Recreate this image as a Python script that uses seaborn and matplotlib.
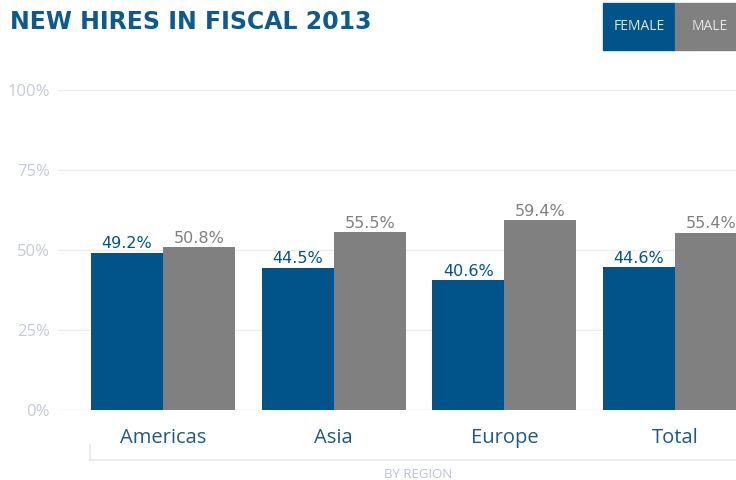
import matplotlib
matplotlib.use("Agg")
import matplotlib.pyplot as plt
import seaborn as sns
import pandas as pd
from matplotlib.patches import Rectangle
from matplotlib.lines import Line2D

regions = ["Americas", "Asia", "Europe", "Total"]
female = [49.2, 44.5, 40.6, 44.6]
male = [50.8, 55.5, 59.4, 55.4]
genders = ["FEMALE", "MALE"]
yticks = [0, 25, 50, 75, 100]
ytick_labels = ["0%", "25%", "50%", "75%", "100%"]

BLUE = "#00548a"
GRAY = "#808080"

df = pd.DataFrame({
    "region": regions * 2,
    "pct": female + male,
    "gender": [genders[0]] * len(regions) + [genders[1]] * len(regions),
})

sns.set_theme(style="white")
plt.rcParams["font.family"] = ["Open Sans", "DejaVu Sans"]

fig = plt.figure(figsize=(7.36, 4.8), dpi=100)
W, H = 736, 480
ax = fig.add_axes([58 / W, 70 / H, 678 / W, 320 / H])

sns.barplot(data=df, x="region", y="pct", hue="gender", order=regions,
            hue_order=genders, palette=[BLUE, GRAY], saturation=1,
            width=0.845, dodge=True, gap=0, ax=ax, zorder=3, linewidth=0)
if ax.get_legend() is not None:
    ax.get_legend().remove()

ax.set_ylim(0, 100)
ax.set_xlim(-0.615, 3.357)
ax.set_yticks(yticks)
ax.set_yticklabels(ytick_labels, color="#c6c9de", fontsize=12)
ax.tick_params(axis="y", length=0, pad=6)
ax.set_xticks(range(len(regions)))
ax.set_xticklabels(regions, color="#1d5a88", fontsize=14.5)
ax.tick_params(axis="x", length=0, pad=13)
ax.set_xlabel("")
ax.set_ylabel("")
for s in ax.spines.values():
    s.set_visible(False)
for y in yticks:
    ax.axhline(y, color="#ececf2" if y else "#e2e2ea", lw=1, zorder=1)

for cont, col in zip(ax.containers, [BLUE, GRAY]):
    ax.bar_label(cont, labels=[f"{v:.1f}%" for v in cont.datavalues],
                 color=col, fontsize=11.5, padding=1,
                 family=["DejaVu Sans"])

# bottom bracket decoration
fig.add_artist(Line2D([90 / W, 90 / W], [1 - 445 / H, 1 - 460 / H],
                      color="#e6e6ee", lw=1.2, transform=fig.transFigure))
fig.add_artist(Line2D([90 / W, 1.0], [1 - 460 / H, 1 - 460 / H],
                      color="#e6e6ee", lw=1.2, transform=fig.transFigure))
fig.text(418 / W, 1 - 475 / H, "BY REGION", ha="center", va="center",
         color="#bcc0d6", fontsize=9.5)

# title
fig.text(10 / W, 1 - 22 / H, "NEW HIRES IN FISCAL 2013", ha="left",
         va="center", color="#0d5a8e", fontsize=17, fontweight="bold",
         family=["DejaVu Sans"])

# legend boxes
fig.add_artist(Rectangle((603 / W, 1 - 50 / H), 72 / W, 47 / H,
                         color=BLUE, transform=fig.transFigure))
fig.add_artist(Rectangle((675 / W, 1 - 50 / H), 61 / W, 47 / H,
                         color=GRAY, transform=fig.transFigure))
fig.text(639 / W, 1 - 26 / H, genders[0], ha="center", va="center",
         color="#dce6f0", fontsize=10)
fig.text(710 / W, 1 - 26 / H, genders[1], ha="center", va="center",
         color="#e6e6e6", fontsize=10)

fig.savefig("out.png", dpi=100, facecolor="white")
